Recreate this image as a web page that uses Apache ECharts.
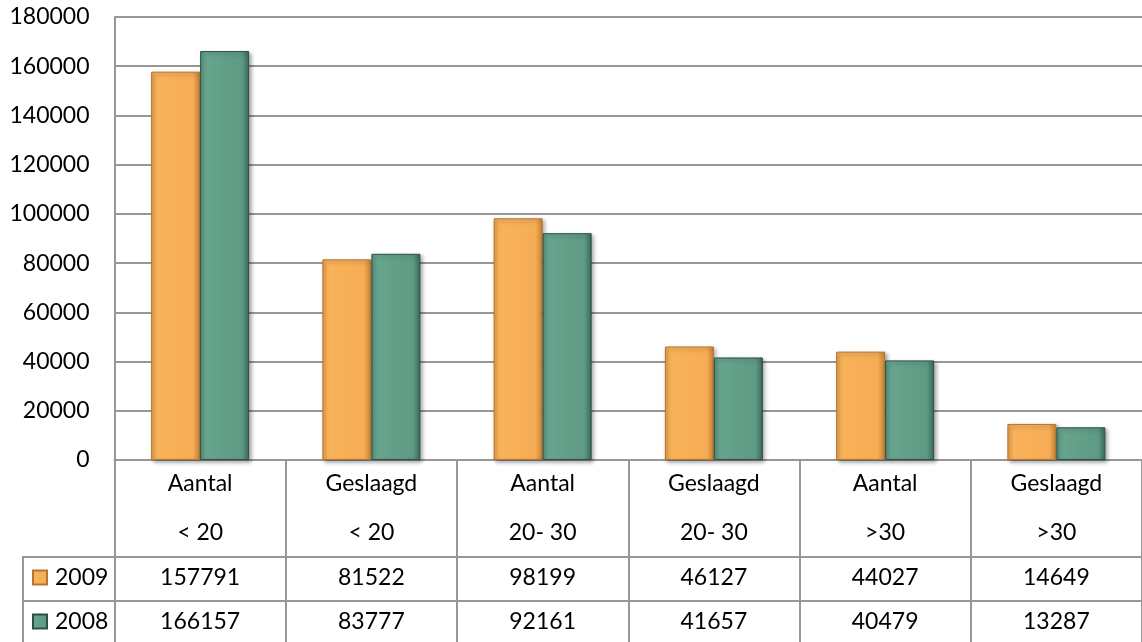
<!DOCTYPE html>
<html>
<head>
<meta charset="utf-8">
<script src="https://cdn.jsdelivr.net/npm/echarts@6/dist/echarts.min.js"></script>
<style>
  html, body { margin: 0; padding: 0; background: #fff; }
  #chart { width: 1142px; height: 642px; }
</style>
</head>
<body>
<div id="chart"></div>
<script type="text/javascript">
// categories (two lines in the data table header)
var categories = ['Aantal\n< 20', 'Geslaagd\n< 20', 'Aantal\n20- 30', 'Geslaagd\n20- 30', 'Aantal\n>30', 'Geslaagd\n>30'];
var years = ['2009', '2008'];
var values2009 = [157791, 81522, 98199, 46127, 44027, 14649];
var values2008 = [166157, 83777, 92161, 41657, 40479, 13287];
var yTicks = [0, 20000, 40000, 60000, 80000, 100000, 120000, 140000, 160000, 180000];

var FONT = 'Lato';
var FS = 23;
var LINE = '#979797';

var orange = new echarts.graphic.LinearGradient(0, 0, 1, 0, [
	{offset: 0, color: '#E49B45'},
	{offset: 0.1, color: '#F9B35A'},
	{offset: 0.85, color: '#F6AD55'},
	{offset: 1, color: '#C58233'}
]);
var green = new echarts.graphic.LinearGradient(0, 0, 1, 0, [
	{offset: 0, color: '#558F7A'},
	{offset: 0.1, color: '#67A58F'},
	{offset: 0.85, color: '#5E9A84'},
	{offset: 1, color: '#3A6A59'}
]);

var myChart = echarts.init(document.getElementById('chart'), null, {renderer: 'canvas'});

function rowAxis(offset, vals) {
	return {
		type: 'category',
		data: categories,
		position: 'bottom',
		offset: offset,
		axisLine: {show: true, lineStyle: {color: LINE, width: 2}},
		axisTick: {show: false},
		axisLabel: {
			interval: 0,
			margin: 10,
			color: '#000',
			fontFamily: FONT,
			fontSize: FS,
			lineHeight: 22,
			formatter: function (v, i) { return String(vals[i]); }
		}
	};
}

function legendRow(name, top) {
	return {
		data: [name], left: 32, top: top, padding: 0,
		itemWidth: 14, itemHeight: 14, itemGap: 0,
		icon: 'rect',
		textStyle: {fontFamily: FONT, fontSize: FS, color: '#000', padding: [0, 0, 0, 3]}
	};
}

option = {
	animation: false,
	textStyle: {fontFamily: FONT},
	grid: {left: 114.5, right: -6, top: 17, bottom: 182},
	legend: [legendRow(years[0], 566), legendRow(years[1], 610)],
	xAxis: [
		{
			type: 'category',
			data: categories,
			position: 'bottom',
			axisLine: {show: true, lineStyle: {color: LINE, width: 2}},
			axisTick: {show: true, interval: 0, length: 190, alignWithLabel: false, lineStyle: {color: LINE, width: 2}},
			axisLabel: {interval: 0, margin: -1, color: '#000', fontFamily: FONT, fontSize: FS, lineHeight: 49}
		},
		rowAxis(97, values2009),
		rowAxis(141, values2008)
	],
	yAxis: {
		type: 'value',
		min: yTicks[0],
		max: yTicks[yTicks.length - 1],
		interval: 20000,
		axisLine: {show: true, lineStyle: {color: LINE, width: 2}},
		axisTick: {show: false},
		axisLabel: {
			margin: 25, color: '#000', fontFamily: FONT, fontSize: FS,
			formatter: function (v) { return String(v); }
		},
		splitLine: {lineStyle: {color: LINE, width: 2}}
	},
	series: [
		{
			name: years[0],
			type: 'bar',
			data: values2009,
			barWidth: 49,
			barGap: '0%',
			itemStyle: {
				color: orange,
				borderColor: '#B57532',
				borderWidth: 1,
				shadowColor: 'rgba(0,0,0,0.35)',
				shadowBlur: 4,
				shadowOffsetX: 2,
				shadowOffsetY: 2
			}
		},
		{
			name: years[1],
			type: 'bar',
			data: values2008,
			barWidth: 49,
			itemStyle: {
				color: green,
				borderColor: '#2D5143',
				borderWidth: 1,
				shadowColor: 'rgba(0,0,0,0.35)',
				shadowBlur: 4,
				shadowOffsetX: 2,
				shadowOffsetY: 2
			}
		}
	],
	graphic: [
		// legend cells of the data table
		{type: 'line', shape: {x1: 23, y1: 557, x2: 115, y2: 557}, style: {stroke: LINE, lineWidth: 2}},
		{type: 'line', shape: {x1: 23, y1: 601, x2: 115, y2: 601}, style: {stroke: LINE, lineWidth: 2}},
		{type: 'line', shape: {x1: 23, y1: 556, x2: 23, y2: 642}, style: {stroke: LINE, lineWidth: 2}}
	]
};
myChart.setOption(option);
</script>
</body>
</html>
